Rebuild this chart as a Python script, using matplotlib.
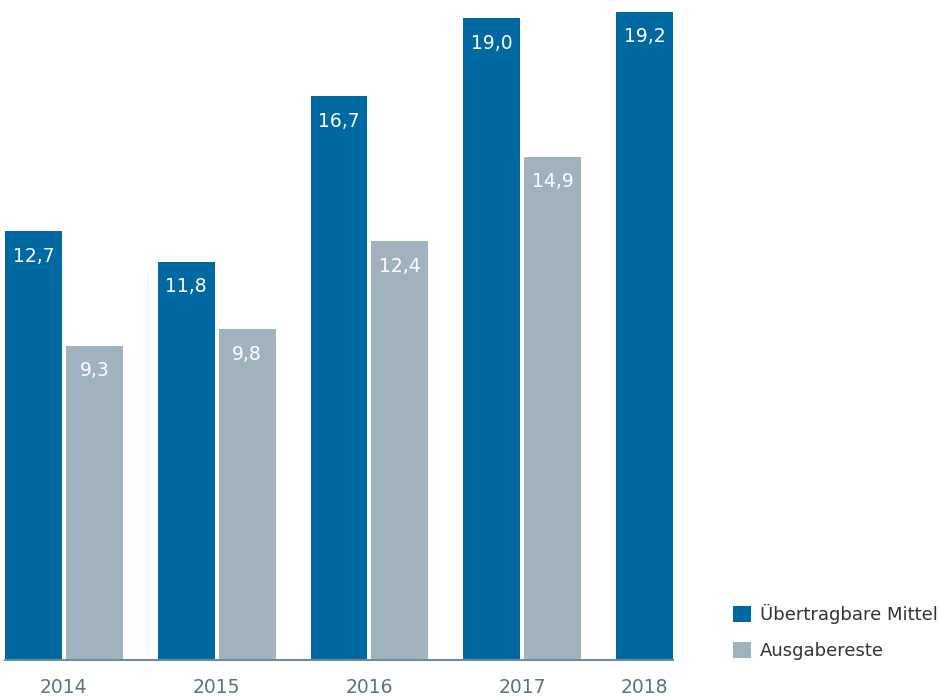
import matplotlib
matplotlib.use("Agg")
import matplotlib.pyplot as plt
import matplotlib.transforms as mtransforms
from matplotlib.patches import Patch

years = ["2014", "2015", "2016", "2017", "2018"]
uebertragbar = [12.7, 11.8, 16.7, 19.0, 19.2]
ausgabereste = [9.3, 9.8, 12.4, 14.9, None]
labels_series = ["Übertragbare Mittel", "Ausgabereste"]

BLUE = "#0069A2"
GRAY = "#A1B2BF"
AXIS = "#6F8B9B"
TICK = "#5A7483"

plt.rcParams['font.family'] = ['DejaVu Sans']

fig = plt.figure(figsize=(9.4, 7.0), dpi=100)
W, H = 940, 700
ax = fig.add_axes([5 / W, 40 / H, (673 - 5) / W, 660 / H])

group = 153.0
w = 57 / group
off = 30.5 / group

shift = mtransforms.ScaledTranslation(0, -25 / 100, fig.dpi_scale_trans)

tick_pos = []
for i, (b, g) in enumerate(zip(uebertragbar, ausgabereste)):
    xb = i - off
    tick_pos.append(xb if g is None else i)
    ax.bar(xb, b, width=w, color=BLUE)
    ax.text(xb, b, f"{b:.1f}".replace(".", ","), ha="center", va="center",
            color="white", fontsize=13.5, transform=ax.transData + shift)
    if g is not None:
        xg = i + off
        ax.bar(xg, g, width=w, color=GRAY)
        ax.text(xg, g, f"{g:.1f}".replace(".", ","), ha="center", va="center",
                color="white", fontsize=13.5, transform=ax.transData + shift)

ax.set_xlim(-59 / group, 4 - off + 28.5 / group)
ax.set_ylim(0, 660 / 33.77)

for s in ["top", "right", "left"]:
    ax.spines[s].set_visible(False)
ax.spines["bottom"].set_color(AXIS)
ax.spines["bottom"].set_linewidth(1.5)
ax.set_yticks([])
ax.set_xticks(tick_pos)
ax.set_xticklabels(years, fontsize=13.5, color=TICK)
ax.tick_params(axis="x", length=0, pad=13)

handles = [Patch(facecolor=BLUE, edgecolor="none"), Patch(facecolor=GRAY, edgecolor="none")]
fig.legend(handles, labels_series, loc="upper left",
           bbox_to_anchor=(733 / W, 1 - 604 / H), frameon=False,
           fontsize=13, handlelength=1.0, handleheight=1.0,
           handletextpad=0.5, labelspacing=1.0, labelcolor="#333333",
           borderpad=0, borderaxespad=0)

fig.savefig("out.png", dpi=100)
